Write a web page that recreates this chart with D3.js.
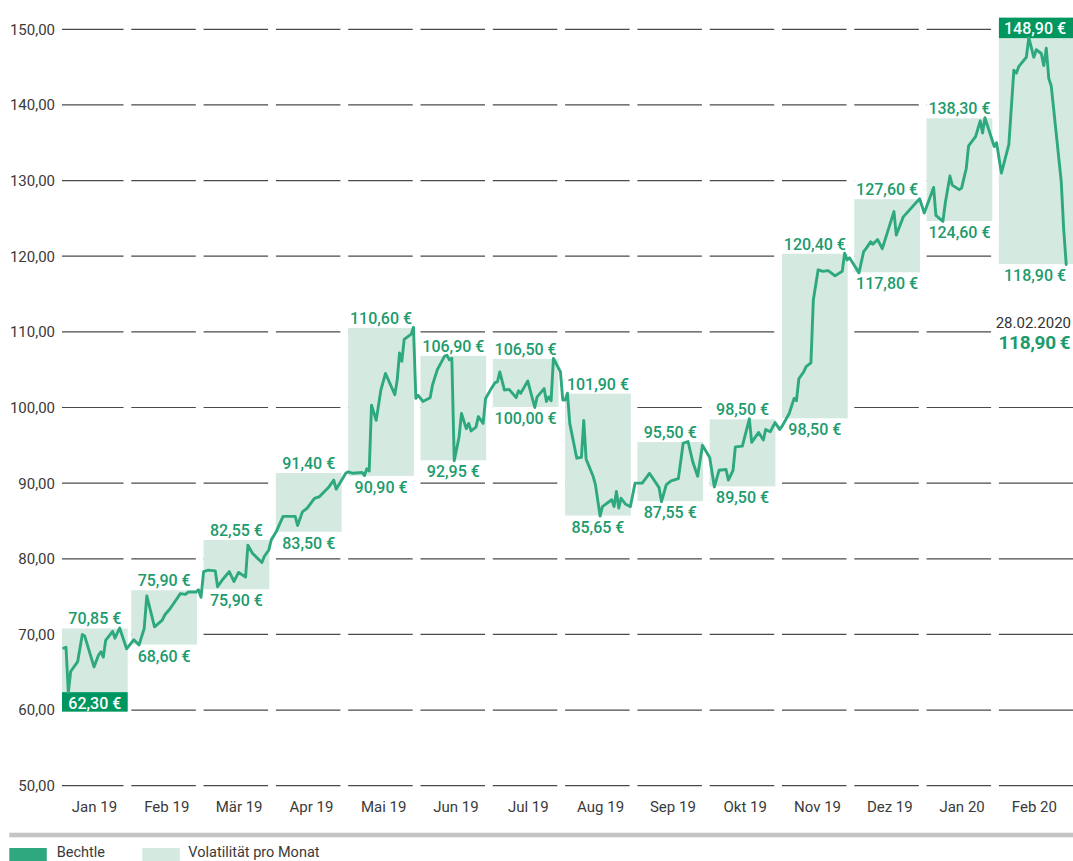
<!DOCTYPE html>
<html><head><meta charset="utf-8">
<script src="https://cdn.jsdelivr.net/npm/d3@7"></script>
<style>
html,body{margin:0;padding:0;background:#fff;}
svg{display:block;font-family:Roboto,"Noto Sans",sans-serif;}
</style></head><body>
<svg id="chart" width="1073" height="861"></svg>
<script>
// ---------- DATA ----------
const months = ["Jan 19","Feb 19","Mär 19","Apr 19","Mai 19","Jun 19","Jul 19","Aug 19","Sep 19","Okt 19","Nov 19","Dez 19","Jan 20","Feb 20"];
const monthStarts = ["2019-01-01","2019-02-01","2019-03-01","2019-04-01","2019-05-01","2019-06-01","2019-07-01","2019-08-01","2019-09-01","2019-10-01","2019-11-01","2019-12-01","2020-01-01","2020-02-01","2020-03-01"];
const monthHigh = [70.85,75.90,82.55,91.40,110.60,106.90,106.50,101.90,95.50,98.50,120.40,127.60,138.30,148.90];
const monthLow  = [62.30,68.60,75.90,83.50,90.90,92.95,100.00,85.65,87.55,89.50,98.50,117.80,124.60,118.90];
const yTicks = [50,60,70,80,90,100,110,120,130,140,150];
const lastDateLabel = "28.02.2020";
const lastValue = 118.90;
const legendLabels = ["Bechtle","Volatilität pro Monat"];
const bechtleDaily = [
["2019-01-03",68.2],["2019-01-04",68.3],["2019-01-05",62.3],["2019-01-06",65.1],["2019-01-09",66.4],["2019-01-11",70.0],["2019-01-12",69.8],["2019-01-16",65.7],["2019-01-18",67.3],["2019-01-19",67.7],["2019-01-20",67.0],["2019-01-21",69.2],["2019-01-24",70.4],["2019-01-25",69.5],["2019-01-27",70.85],["2019-01-30",68.1],
["2019-02-02",69.3],["2019-02-04",68.6],["2019-02-06",70.8],["2019-02-07",75.1],["2019-02-10",71.0],["2019-02-13",71.9],["2019-02-14",72.6],["2019-02-16",73.4],["2019-02-20",75.4],["2019-02-22",75.3],["2019-02-23",75.6],["2019-02-26",75.6],["2019-02-27",75.9],["2019-02-28",74.9],
["2019-03-01",78.3],["2019-03-03",78.5],["2019-03-06",78.4],["2019-03-07",76.3],["2019-03-09",77.2],["2019-03-12",78.3],["2019-03-14",77.0],["2019-03-16",78.2],["2019-03-19",77.6],["2019-03-20",81.8],["2019-03-22",80.7],["2019-03-26",79.5],["2019-03-27",80.3],["2019-03-29",81.2],["2019-03-30",82.5],
["2019-04-01",83.5],["2019-04-03",84.9],["2019-04-04",85.6],["2019-04-09",85.6],["2019-04-10",84.4],["2019-04-12",86.2],["2019-04-14",86.7],["2019-04-17",88.0],["2019-04-19",88.2],["2019-04-23",89.5],["2019-04-25",90.4],["2019-04-26",89.2],["2019-04-30",91.3],
["2019-05-01",91.5],["2019-05-03",91.3],["2019-05-07",91.4],["2019-05-08",91.0],["2019-05-09",91.9],["2019-05-10",91.6],["2019-05-11",100.3],["2019-05-13",98.3],["2019-05-15",102.3],["2019-05-17",104.5],["2019-05-21",101.7],["2019-05-22",103.6],["2019-05-23",107.2],["2019-05-24",106.1],["2019-05-25",109.0],["2019-05-28",109.7],["2019-05-29",110.6],["2019-05-30",101.2],["2019-05-31",101.6],
["2019-06-02",100.8],["2019-06-05",101.3],["2019-06-06",103.0],["2019-06-08",105.0],["2019-06-11",106.8],["2019-06-12",106.9],["2019-06-13",106.3],["2019-06-14",106.5],["2019-06-15",92.95],["2019-06-17",96.1],["2019-06-18",99.2],["2019-06-20",97.2],["2019-06-21",97.9],["2019-06-22",96.9],["2019-06-24",97.4],["2019-06-25",98.8],["2019-06-27",97.9],["2019-06-28",101.2],["2019-06-30",102.3],
["2019-07-02",103.3],["2019-07-03",103.4],["2019-07-04",104.7],["2019-07-06",102.3],["2019-07-08",102.4],["2019-07-11",101.3],["2019-07-12",102.2],["2019-07-13",101.9],["2019-07-16",103.5],["2019-07-19",100.0],["2019-07-20",101.4],["2019-07-23",102.5],["2019-07-24",100.8],["2019-07-25",101.4],["2019-07-26",100.9],["2019-07-27",106.5],["2019-07-30",104.7],["2019-07-31",101.0],
["2019-08-01",101.0],["2019-08-02",101.9],["2019-08-03",97.9],["2019-08-06",93.3],["2019-08-08",93.4],["2019-08-09",98.3],["2019-08-10",93.2],["2019-08-13",90.9],["2019-08-14",89.8],["2019-08-16",85.65],["2019-08-17",86.9],["2019-08-21",87.8],["2019-08-22",86.9],["2019-08-23",88.9],["2019-08-24",86.7],["2019-08-25",88.0],["2019-08-27",87.2],["2019-08-29",86.9],["2019-08-31",90.0],
["2019-09-03",90.0],["2019-09-06",91.3],["2019-09-10",89.4],["2019-09-11",87.55],["2019-09-13",89.8],["2019-09-15",90.3],["2019-09-18",90.6],["2019-09-20",95.3],["2019-09-22",95.5],["2019-09-24",92.8],["2019-09-26",90.9],["2019-09-28",95.0],
["2019-10-01",93.4],["2019-10-03",89.5],["2019-10-05",91.7],["2019-10-08",91.8],["2019-10-09",90.4],["2019-10-11",91.7],["2019-10-12",94.8],["2019-10-15",94.9],["2019-10-18",98.5],["2019-10-19",95.4],["2019-10-22",96.7],["2019-10-24",95.7],["2019-10-25",97.1],["2019-10-27",96.8],["2019-10-29",98.0],["2019-10-31",97.1],
["2019-11-01",97.5],["2019-11-04",99.2],["2019-11-06",101.2],["2019-11-07",100.9],["2019-11-08",103.8],["2019-11-10",104.7],["2019-11-11",105.4],["2019-11-13",105.9],["2019-11-14",114.2],["2019-11-16",118.2],["2019-11-18",118.0],["2019-11-20",118.1],["2019-11-21",117.9],["2019-11-23",117.4],["2019-11-26",118.0],["2019-11-27",120.4],["2019-11-28",119.5],["2019-11-29",119.8],["2019-11-30",119.3],
["2019-12-03",117.8],["2019-12-05",120.6],["2019-12-06",121.0],["2019-12-08",121.9],["2019-12-09",121.6],["2019-12-11",122.2],["2019-12-13",121.0],["2019-12-18",125.9],["2019-12-19",122.8],["2019-12-22",125.2],["2019-12-29",127.6],["2019-12-31",125.7],
["2020-01-04",129.1],["2020-01-05",125.4],["2020-01-08",124.6],["2020-01-09",127.0],["2020-01-11",130.6],["2020-01-12",129.4],["2020-01-15",128.8],["2020-01-16",129.0],["2020-01-18",131.6],["2020-01-19",134.6],["2020-01-22",135.8],["2020-01-24",137.9],["2020-01-25",136.3],["2020-01-26",138.3],["2020-01-30",134.5],["2020-01-31",135.0],
["2020-02-02",131.0],["2020-02-05",134.8],["2020-02-07",144.6],["2020-02-08",144.2],["2020-02-09",145.1],["2020-02-12",146.3],["2020-02-13",148.9],["2020-02-15",146.3],["2020-02-16",147.3],["2020-02-18",146.8],["2020-02-19",145.2],["2020-02-20",147.5],["2020-02-21",143.5],["2020-02-22",142.5],["2020-02-26",129.9],["2020-02-27",123.5],["2020-02-28",118.9]
];

// ---------- LAYOUT ----------
const W = 1073, H = 861;
const C = {line:"#2ea97f", box:"#d4e9df", dark:"#00965f", text:"#1c9b6d", grid:"#4a4a4a", axis:"#3a3a3a", bar:"#c4c4c4"};
const parse = d3.timeParse("%Y-%m-%d");
const starts = monthStarts.map(parse);
const step = 72.3, x0 = 59;
const x = d3.scaleTime().domain(starts).range(starts.map((d,i) => x0 + step*i));
const y = d3.scaleLinear().domain([50,150]).range([785.7,29.3]);
const locale = d3.formatLocale({decimal:",", thousands:".", grouping:[3], currency:["",""]});
const f2 = locale.format(".2f");
const euro = v => f2(v) + " €";

const svg = d3.select("#chart");
const n = months.length;
const cols = months.map((m,i) => {
  const bs = x(starts[i]);
  const left = Math.max(bs, 62);
  const last = i === n-1;
  return {i, m, bs, left, boxR: last ? W : left + 65.7, gridR: last ? W : bs + 64.5, hi: monthHigh[i], lo: monthLow[i]};
});

// gridlines (segments per month)
const gridG = svg.append("g");
yTicks.forEach(t => {
  cols.forEach(c => {
    gridG.append("line").attr("x1", c.left).attr("x2", c.gridR)
      .attr("y1", y(t)).attr("y2", y(t))
      .attr("stroke", C.grid).attr("stroke-width", 1.2);
  });
});

// y tick labels
svg.append("g").selectAll("text").data(yTicks).join("text")
  .attr("x", 55).attr("y", d => y(d)).attr("dy", "0.36em")
  .attr("text-anchor", "end").attr("font-size", 15).attr("fill", C.axis)
  .text(d => f2(d));

// month labels
svg.append("g").selectAll("text").data(cols).join("text")
  .attr("x", c => c.bs + 35.5).attr("y", 812)
  .attr("text-anchor", "middle").attr("font-size", 15).attr("fill", C.axis)
  .text(c => c.m);

// volatility boxes
svg.append("g").selectAll("rect").data(cols).join("rect")
  .attr("x", c => c.left).attr("width", c => c.boxR - c.left)
  .attr("y", c => y(c.hi)).attr("height", c => y(c.lo) - y(c.hi))
  .attr("fill", C.box);

const overallMax = d3.max(monthHigh), overallMin = d3.min(monthLow);
const isMaxCol = c => c.hi === overallMax;
const isMinCol = c => c.lo === overallMin;

// label backgrounds
const bgG = svg.append("g");
cols.forEach(c => {
  bgG.append("rect").attr("x", c.left).attr("width", c.boxR - c.left)
    .attr("y", y(c.hi) - 20).attr("height", 20.5)
    .attr("fill", isMaxCol(c) ? C.dark : "#fff");
  bgG.append("rect").attr("x", c.left).attr("width", c.boxR - c.left)
    .attr("y", y(c.lo) - 0.5).attr("height", isMinCol(c) ? 19.5 : 18.5)
    .attr("fill", isMinCol(c) ? C.dark : "#fff");
});

// annotation background + text
const lastCol = cols[n-1];
const annG = svg.append("g");
annG.append("rect").attr("x", lastCol.left).attr("width", W - lastCol.left)
  .attr("y", 314).attr("height", 38).attr("fill", "#fff");

// price line
const line = d3.line().x(d => x(parse(d[0]))).y(d => y(d[1]));
svg.append("path").datum(bechtleDaily).attr("d", line)
  .attr("fill", "none").attr("stroke", C.line).attr("stroke-width", 2.9)
  .attr("stroke-linejoin", "round").attr("stroke-linecap", "round");

// value labels
const lblG = svg.append("g").attr("font-size", 16).attr("font-weight", 500).attr("text-anchor", "middle");
cols.forEach(c => {
  const cx = (c.left + (c.i === n-1 ? c.left + 72.3 : c.boxR)) / 2;
  lblG.append("text").attr("x", cx).attr("y", y(c.hi) - 3.5)
    .attr("fill", isMaxCol(c) ? "#fff" : C.text).text(euro(c.hi));
  lblG.append("text").attr("x", cx).attr("y", y(c.lo) + 16.5)
    .attr("fill", isMinCol(c) ? "#fff" : C.text).text(euro(c.lo));
});

annG.append("text").attr("x", 1071).attr("y", 328).attr("text-anchor", "end")
  .attr("font-size", 15).attr("fill", "#333").text(lastDateLabel);
annG.append("text").attr("x", 1070).attr("y", 349).attr("text-anchor", "end")
  .attr("font-size", 19).attr("font-weight", 700).attr("letter-spacing", -0.3).attr("fill", C.text)
  .text(f2(lastValue) + "\u2009€");

// legend
svg.append("rect").attr("x", 9.3).attr("y", 832.7).attr("width", W - 9.3).attr("height", 4.6).attr("fill", C.bar);
const leg = svg.append("g");
const legItems = [{t: legendLabels[0], c: C.line, sx: 9.3, tx: 56.7}, {t: legendLabels[1], c: C.box, sx: 142.3, tx: 188.3}];
legItems.forEach(d => {
  leg.append("rect").attr("x", d.sx).attr("y", 848).attr("width", 37.5).attr("height", 16).attr("fill", d.c);
  leg.append("text").attr("x", d.tx).attr("y", 857).attr("font-size", 14.5).attr("fill", C.axis).text(d.t);
});
</script>
</body></html>
